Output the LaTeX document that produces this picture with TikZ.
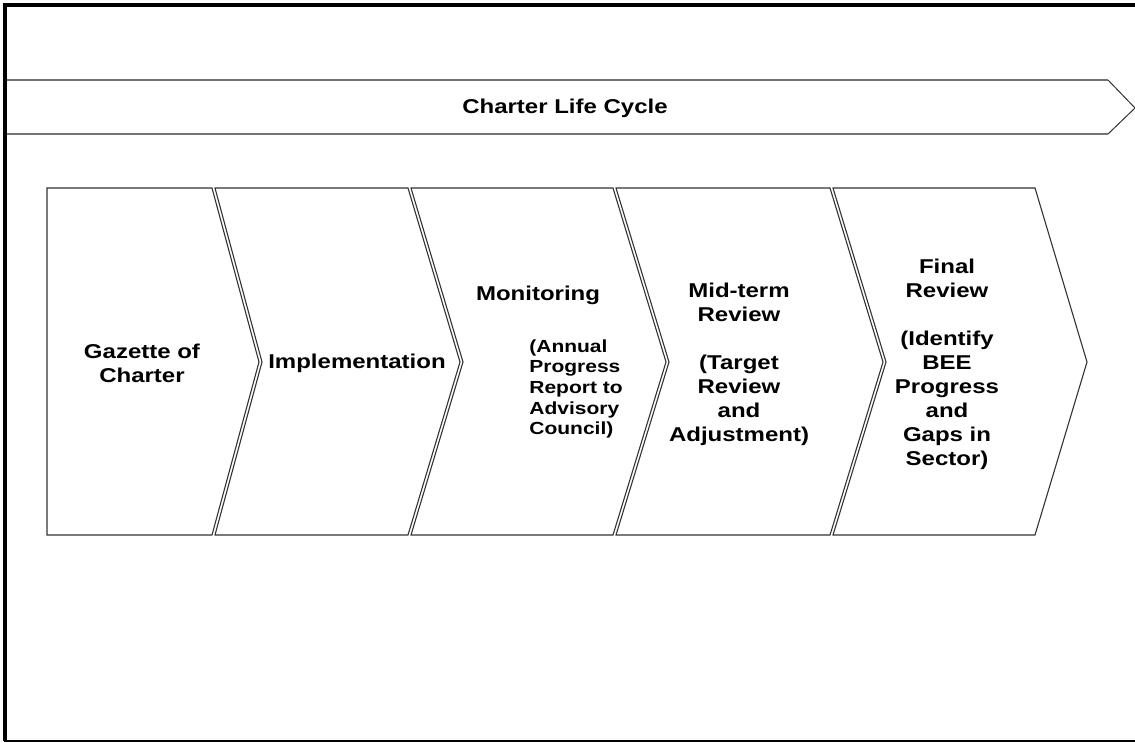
\documentclass[tikz,border=0pt]{standalone}
\usepackage{fontspec}
\setmainfont{Liberation Sans}[FakeStretch=1.2]
\usepackage{tikz}

\begin{document}
\begin{tikzpicture}[x=1pt, y=-1pt,
    frame/.style={line width=3.5pt, black},
    band/.style={draw=black!55, line width=2pt},
    chev/.style={draw=black!80, line width=1.1pt},
    lbl/.style={align=center, font=\bfseries\fontsize{20}{24}\selectfont},
    small/.style={align=left, font=\bfseries\fontsize{17.5}{20.7}\selectfont}]
    \useasboundingbox (0,0) rectangle (1135,742);
    % outer frame (right side falls outside the page)
    \draw[frame] (1140,5) -- (5,5) -- (5,741);
    \draw[line width=2pt] (4,741) -- (1140,741);
    % life cycle banner
    \draw[band] (7,80) -- (1108,80);
    \draw[band] (7,134) -- (1108,134);
    \draw[chev, line width=1pt] (1108,80) -- (1135,108) -- (1108,134);
    \node[lbl] (title) at (565,108) {Charter Life Cycle};
    % the five phases
    \draw[chev] (47,188) -- (212,188) -- (259,362) -- (212,535) -- (47,535) -- cycle;
    \draw[chev] (215,188) -- (408,188) -- (460,362) -- (408,535) -- (215,535) -- (262,362) -- cycle;
    \draw[chev] (411,188) -- (613,188) -- (666,362) -- (613,535) -- (411,535) -- (463,362) -- cycle;
    \draw[chev] (616,188) -- (830,188) -- (883,362) -- (830,535) -- (616,535) -- (669,362) -- cycle;
    \draw[chev] (833,188) -- (1035,188) -- (1087,362) -- (1035,535) -- (833,535) -- (886,362) -- cycle;
    \node[lbl] (gaz) at (142,363) {Gazette of\\Charter};
    \node[lbl] (impl) at (357,363) {Implementation};
    \node[lbl] (mon) at (538,295) {Monitoring};
    \node[small] (monsub) at (576,389) {(Annual\\Progress\\Report to\\Advisory\\Council)};
    \node[lbl] (mid) at (739,364) {Mid-term\\Review\\[24pt](Target\\Review\\and\\Adjustment)};
    \node[lbl] (fin) at (947,364) {Final\\Review\\[24pt](Identify\\BEE\\Progress\\and\\Gaps in\\Sector)};
\end{tikzpicture}
\end{document}
